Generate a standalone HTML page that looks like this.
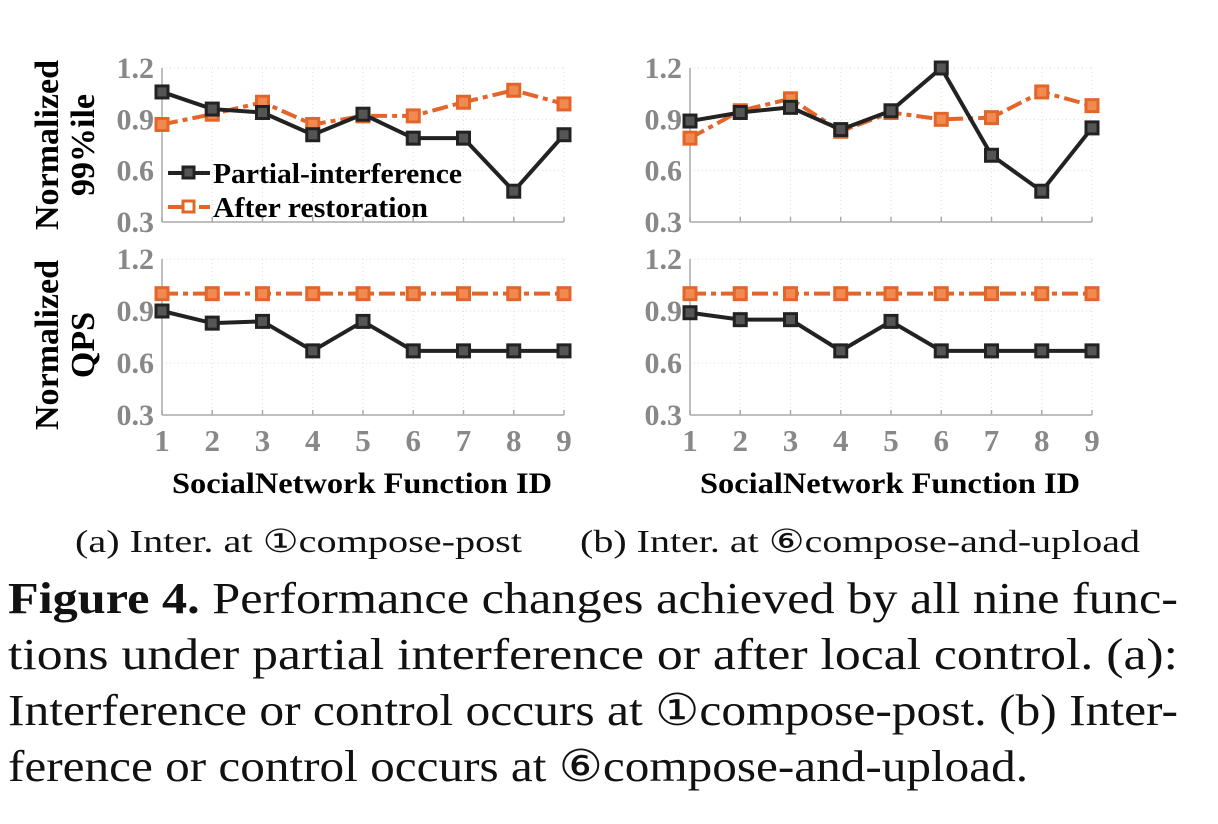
<!DOCTYPE html>
<html><head><meta charset="utf-8"><style>
html,body{margin:0;padding:0;background:#fff;width:1218px;height:824px;overflow:hidden}
svg{display:block}
</style></head><body>
<svg id="fig" width="1218" height="824" viewBox="0 0 1218 824" xmlns="http://www.w3.org/2000/svg" font-family="'Liberation Serif', serif">
<g id="plots"></g>
<g>
  <line x1="168" y1="173" x2="210" y2="173" stroke="#222" stroke-width="4"/>
  <rect x="183" y="167" width="11" height="11" fill="#555" stroke="#222" stroke-width="3"/>
  <text x="213" y="183" font-size="29" font-weight="bold" fill="#000" textLength="249" lengthAdjust="spacingAndGlyphs">Partial-interference</text>
  <line x1="168" y1="207" x2="210" y2="207" stroke="#e4652a" stroke-width="4" stroke-dasharray="16,5,5,5"/>
  <rect x="183" y="201" width="11" height="11" fill="#fff" stroke="#e4652a" stroke-width="3"/>
  <text x="213" y="217" font-size="29" font-weight="bold" fill="#000" textLength="215" lengthAdjust="spacingAndGlyphs">After restoration</text>
</g>
<g font-weight="bold" font-size="34" fill="#000">
  <text transform="translate(58,145) rotate(-90)" text-anchor="middle" textLength="170" lengthAdjust="spacingAndGlyphs">Normalized</text>
  <text transform="translate(94,145) rotate(-90)" text-anchor="middle">99%ile</text>
  <text transform="translate(58,345) rotate(-90)" text-anchor="middle" textLength="170" lengthAdjust="spacingAndGlyphs">Normalized</text>
  <text transform="translate(94,345) rotate(-90)" text-anchor="middle">QPS</text>
  <text x="172" y="493" font-size="30" textLength="380" lengthAdjust="spacingAndGlyphs">SocialNetwork Function ID</text>
  <text x="700" y="493" font-size="30" textLength="380" lengthAdjust="spacingAndGlyphs">SocialNetwork Function ID</text>
</g>
<g font-size="32" fill="#111">
  <text x="75" y="552" textLength="447" lengthAdjust="spacingAndGlyphs">(a)  Inter. at ①compose-post</text>
  <text x="580" y="552" textLength="560" lengthAdjust="spacingAndGlyphs">(b)  Inter. at ⑥compose-and-upload</text>
</g>
<g font-size="44" fill="#111">
  <text x="8" y="613" textLength="1170" lengthAdjust="spacingAndGlyphs"><tspan font-weight="bold">Figure 4.</tspan> Performance changes achieved by all nine func-</text>
  <text x="8" y="669" textLength="1170" lengthAdjust="spacingAndGlyphs">tions under partial interference or after local control. (a):</text>
  <text x="8" y="725" textLength="1170" lengthAdjust="spacingAndGlyphs">Interference or control occurs at ①compose-post. (b) Inter-</text>
  <text x="8" y="781" textLength="1020" lengthAdjust="spacingAndGlyphs">ference or control occurs at ⑥compose-and-upload.</text>
</g>
</svg>
<script>
const ids = [1,2,3,4,5,6,7,8,9];
const yTicks = [0.3,0.6,0.9,1.2];
const aLatPartial = [1.06,0.96,0.94,0.81,0.93,0.79,0.79,0.48,0.81];
const aLatRestored = [0.87,0.93,1.00,0.87,0.92,0.92,1.00,1.07,0.99];
const aQpsPartial = [0.90,0.83,0.84,0.67,0.84,0.67,0.67,0.67,0.67];
const aQpsRestored = [1.0,1.0,1.0,1.0,1.0,1.0,1.0,1.0,1.0];
const bLatPartial = [0.89,0.94,0.97,0.84,0.95,1.20,0.69,0.48,0.85];
const bLatRestored = [0.79,0.95,1.02,0.83,0.94,0.90,0.91,1.06,0.98];
const bQpsPartial = [0.89,0.85,0.85,0.67,0.84,0.67,0.67,0.67,0.67];
const bQpsRestored = [1.0,1.0,1.0,1.0,1.0,1.0,1.0,1.0,1.0];

const NS = 'http://www.w3.org/2000/svg';
const root = document.getElementById('plots');
function mk(tag, attrs, parent){const e=document.createElementNS(NS,tag);for(const k in attrs)e.setAttribute(k,attrs[k]);(parent||root).appendChild(e);return e;}

function panel(name, x0, x1, yTop, yBot, partial, restored, showX){
  const g = mk('g',{});
  
  
  const xs = i => x0 + (ids[i]-1)/(ids.length-1)*(x1-x0);
  const ys = v => yBot - (v-0.3)/(1.2-0.3)*(yBot-yTop);
  ids.forEach((d,i)=>{ mk('line',{x1:xs(i),x2:xs(i),y1:yTop,y2:yBot,stroke:'#ddd','stroke-width':1,'stroke-dasharray':'1,3'},g); });
  yTicks.forEach(t=>{
    mk('line',{x1:x0,x2:x1,y1:ys(t),y2:ys(t),stroke:'#ddd','stroke-width':1,'stroke-dasharray':'1,3'},g);
    const tx = mk('text',{x:x0-8,y:ys(t)+10,'text-anchor':'end','font-size':30,'font-weight':'bold',fill:'#888'},g);
    
    
    tx.textContent = t.toFixed(1);
  });
  mk('line',{x1:x0,x2:x0,y1:yTop,y2:yBot,stroke:'#aaa','stroke-width':1.5},g);
  mk('line',{x1:x0,x2:x1,y1:yBot,y2:yBot,stroke:'#aaa','stroke-width':1.5},g);
  ids.forEach((d,i)=>{
    mk('line',{x1:xs(i),x2:xs(i),y1:yBot,y2:yBot-5,stroke:'#aaa','stroke-width':1.5},g);
    if(showX){
      const tx = mk('text',{x:xs(i),y:yBot+36,'text-anchor':'middle','font-size':31,'font-weight':'bold',fill:'#888'},g);
      
      
      tx.textContent = d;
    }
  });
  function series(vals,color,dash,fill,sname){
    const pts = vals.map((v,i)=>xs(i)+','+ys(v)).join(' ');
    const pl = mk('polyline',{points:pts,fill:'none',stroke:color,'stroke-width':4,'stroke-dasharray':dash,'stroke-linejoin':'miter'},g);
    
    
    vals.forEach((v,i)=>{
      const r = mk('rect',{x:xs(i)-6,y:ys(v)-6,width:12,height:12,fill:fill,stroke:color,'stroke-width':3},g);
      
      
    });
  }
  series(restored,'#e4652a','16,5,5,5','#f08a50','after-restoration');
  series(partial,'#222','none','#555','partial-interference');
}
panel('latency-chart-a',162,564,68,222,aLatPartial,aLatRestored,false);
panel('qps-chart-a',162,564,259,415,aQpsPartial,aQpsRestored,true);
panel('latency-chart-b',690,1092,68,222,bLatPartial,bLatRestored,false);
panel('qps-chart-b',690,1092,259,415,bQpsPartial,bQpsRestored,true);
</script>
</body></html>
